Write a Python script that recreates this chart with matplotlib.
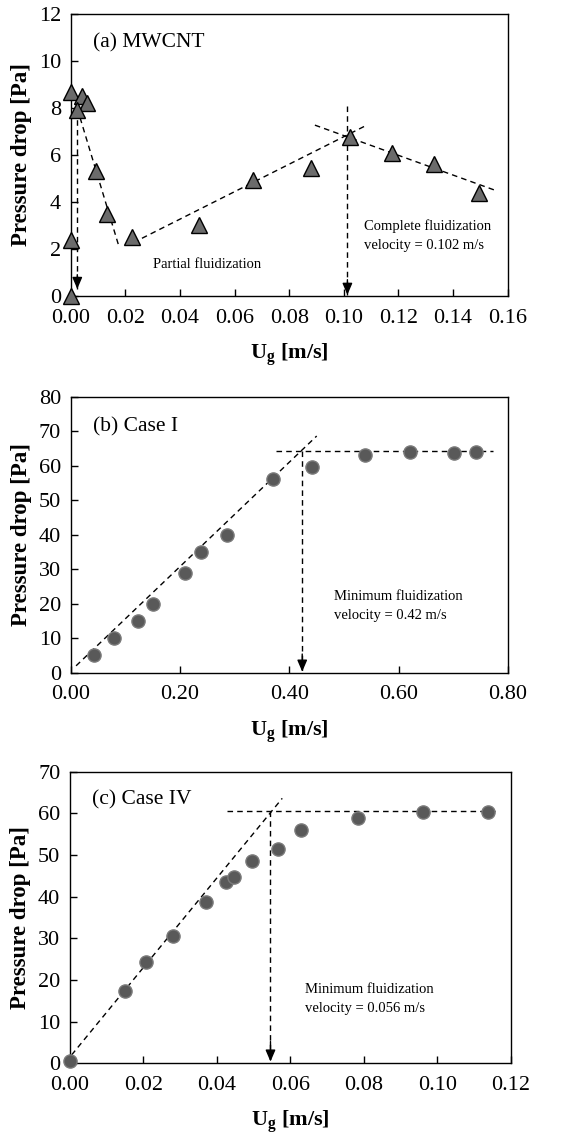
import matplotlib.pyplot as plt
import numpy as np
from matplotlib.ticker import FormatStrFormatter

plt.rcParams["font.family"] = ["Liberation Serif", "DejaVu Serif"]
plt.rcParams["mathtext.fontset"] = "custom"
plt.rcParams["mathtext.rm"] = "Liberation Serif"
plt.rcParams["mathtext.bf"] = "Liberation Serif:bold"

# (a) MWCNT
a_ug = [0.000, 0.0043, 0.0061, 0.0024, 0.0092, 0.0132, 0.0226, 0.000, 0.000,
        0.0471, 0.0669, 0.0879, 0.1023, 0.1178, 0.1331, 0.1493]
a_dp = [8.7, 8.5, 8.2, 7.9, 5.3, 3.5, 2.5, 2.4, 0.0,
        3.0, 4.95, 5.45, 6.75, 6.1, 5.6, 4.4]
a_fits = [([0.0024, 0.0177], [7.98, 2.09]),
          ([0.0229, 0.1084], [2.27, 7.27]),
          ([0.0894, 0.1563], [7.27, 4.46])]
a_arrows = [(0.0024, 7.9, 0.3), (0.1013, 8.1, 0.05)]

# (b) Case I
b_ug = [0.043, 0.080, 0.123, 0.151, 0.209, 0.238, 0.286, 0.370, 0.441,
        0.539, 0.620, 0.701, 0.742]
b_dp = [5.0, 10.1, 15.1, 20.0, 29.0, 35.0, 39.9, 56.0, 59.5,
        63.0, 63.9, 63.6, 64.0]
b_fits = [([0.0098, 0.450], [2.0, 68.6]),
          ([0.375, 0.773], [64.25, 64.25])]
b_arrows = [(0.4235, 64.25, 0.3)]

# (c) Case IV
c_ug = [0.0000, 0.0150, 0.0206, 0.0280, 0.0370, 0.0425, 0.0448, 0.0496,
        0.0567, 0.0629, 0.0783, 0.0962, 0.1137]
c_dp = [0.6, 17.4, 24.2, 30.6, 38.6, 43.4, 44.6, 48.6,
        51.4, 55.9, 59.0, 60.4, 60.4]
c_fits = [([0.00045, 0.0578], [2.0, 63.6]),
          ([0.0427, 0.1162], [60.6, 60.6])]
c_arrows = [(0.0546, 60.6, 0.4)]


def style_axes(ax, xmax, xstep, ymax, ystep):
    ax.set_xlim(0, xmax)
    ax.set_ylim(0, ymax)
    ax.set_xticks(np.arange(0, xmax + 1e-9, xstep))
    ax.set_yticks(np.arange(0, ymax + 1e-9, ystep))
    ax.xaxis.set_major_formatter(FormatStrFormatter("%.2f"))
    ax.tick_params(axis="both", direction="in", length=5, width=1, labelsize=16,
                   top=False, right=False)
    ax.tick_params(axis="x", pad=9)
    ax.tick_params(axis="y", pad=7)
    for s in ax.spines.values():
        s.set_linewidth(1.0)
    ax.set_xlabel(r"$\mathbf{U_g}$ [m/s]", fontsize=16, fontweight="bold", labelpad=10)
    ax.set_ylabel("Pressure drop [Pa]", fontsize=16.5, fontweight="bold", labelpad=5)


def draw_guides(ax, fits, arrows):
    for xs, ys in fits:
        ax.plot(xs, ys, ls=(0, (4, 3)), color="black", lw=1.0, zorder=2)
    for x, y0, y1 in arrows:
        ax.plot([x, x], [y0, y1], ls=(0, (4, 3)), color="black", lw=1.0, zorder=2)
        ax.annotate("", xy=(x, y1), xytext=(x, y1 + (y0 - y1) * 0.08),
                    arrowprops=dict(arrowstyle="-|>,head_length=0.7,head_width=0.3",
                                    color="black", lw=1.0, shrinkA=0, shrinkB=0),
                    zorder=3)


fig = plt.figure(figsize=(5.75, 11.35), dpi=100)
ax1 = fig.add_axes([0.123, 0.7392, 0.760, 0.2485])
ax2 = fig.add_axes([0.123, 0.4073, 0.7605, 0.2432])
ax3 = fig.add_axes([0.1217, 0.0632, 0.7664, 0.2569])

# panel (a)
draw_guides(ax1, a_fits, a_arrows)
ax1.plot(a_ug, a_dp, ls="none", marker="^", ms=12, mfc="#6b6b6b", mec="black",
         mew=1.0, zorder=4, clip_on=False)
style_axes(ax1, 0.16, 0.02, 12, 2)
ax1.text(0.008, 10.75, "(a) MWCNT", fontsize=15.5, va="center")
ax1.text(0.0303, 1.35, "Partial fluidization", fontsize=10.5, va="center")
ax1.text(0.1075, 2.97, "Complete fluidization", fontsize=10.5, va="center")
ax1.text(0.1075, 2.16, "velocity = 0.102 m/s", fontsize=10.5, va="center")

# panel (b)
draw_guides(ax2, b_fits, b_arrows)
ax2.plot(b_ug, b_dp, ls="none", marker="o", ms=9.5, mfc="#595959", mec="#7a7a7a",
         mew=1.0, zorder=4, clip_on=False)
style_axes(ax2, 0.80, 0.20, 80, 10)
ax2.text(0.040, 71.3, "(b) Case I", fontsize=15.5, va="center")
ax2.text(0.482, 22.0, "Minimum fluidization", fontsize=10.5, va="center")
ax2.text(0.482, 16.7, "velocity = 0.42 m/s", fontsize=10.5, va="center")

# panel (c)
draw_guides(ax3, c_fits, c_arrows)
ax3.plot(c_ug, c_dp, ls="none", marker="o", ms=9.5, mfc="#595959", mec="#7a7a7a",
         mew=1.0, zorder=4, clip_on=False)
style_axes(ax3, 0.12, 0.02, 70, 10)
ax3.text(0.0059, 63.2, "(c) Case IV", fontsize=15.5, va="center")
ax3.text(0.064, 17.6, "Minimum fluidization", fontsize=10.5, va="center")
ax3.text(0.064, 13.2, "velocity = 0.056 m/s", fontsize=10.5, va="center")

fig.savefig("out.png", dpi=100)
